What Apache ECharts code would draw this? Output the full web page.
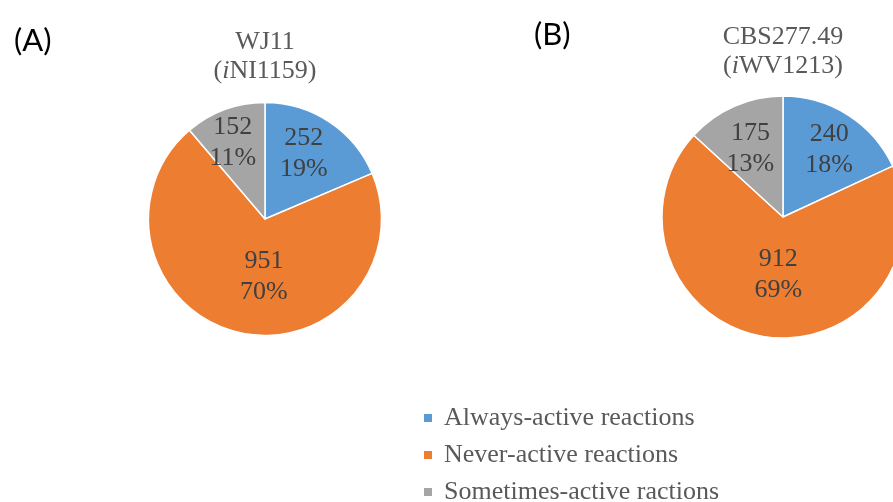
<!DOCTYPE html>
<html>
<head>
<meta charset="utf-8">
<script src="https://cdn.jsdelivr.net/npm/echarts@6/dist/echarts.min.js"></script>
<style>
  html, body { margin: 0; padding: 0; background: #fff; }
  #chart { width: 893px; height: 502px; }
</style>
</head>
<body>
<div id="chart"></div>
<script>
// Reaction activity classes shared by both strains
const categories = ['Always-active reactions', 'Never-active reactions', 'Sometimes-active ractions'];
// Strain WJ11 (model iNI1159)
const valuesA = [252, 951, 152];
// Strain CBS277.49 (model iWV1213)
const valuesB = [240, 912, 175];

const colors = ['#5B9BD5', '#ED7D31', '#A5A5A5'];
const serif = '"Liberation Serif", "Times New Roman", serif';

// Small nudges that move each value label to a comfortable spot in its slice
const labelShiftA = [[5, -14], [13, -2], [-11, -19]];
const labelShiftB = [[12, -14], [5, -5], [-7, -10]];

function buildData(values) {
  return categories.map((name, i) => ({ name, value: values[i] }));
}

function pieSeries(values, center, radius, shift) {
  return {
    type: 'pie',
    center: center,
    radius: radius,
    startAngle: 90,
    clockwise: true,
    percentPrecision: 0,
    animation: false,
    silent: true,
    itemStyle: { borderColor: '#ffffff', borderWidth: 1.5 },
    label: {
      show: true,
      position: 'inside',
      formatter: '{c}\n{d}%',
      color: '#404040',
      fontFamily: serif,
      fontSize: 26,
      lineHeight: 31
    },
    labelLine: { show: false },
    labelLayout: function (p) {
      const s = shift[p.dataIndex];
      return { dx: s[0], dy: s[1] };
    },
    data: buildData(values)
  };
}

function titleRich() {
  const base = { fontFamily: serif, fontSize: 26, color: '#595959', lineHeight: 29.5, fontWeight: 'normal' };
  return {
    n: base,
    i: Object.assign({}, base, { fontStyle: 'italic' })
  };
}

const panelFont = { fontFamily: 'Lato, "Open Sans", sans-serif', fontSize: 31, fontWeight: 'normal', color: '#000' };

const chart = echarts.init(document.getElementById('chart'));
chart.setOption({
  backgroundColor: '#ffffff',
  color: colors,
  title: [
    { text: '(A)', left: 9, top: 20, textStyle: panelFont },
    { text: '(B)', left: 529, top: 14, textStyle: panelFont },
    {
      text: '{n|WJ11}\n{n|(}{i|i}{n|NI1159)}',
      left: 265, top: 27, textAlign: 'center', padding: 0,
      textStyle: { fontWeight: 'normal', rich: titleRich() }
    },
    {
      text: '{n|CBS277.49}\n{n|(}{i|i}{n|WV1213)}',
      left: 783, top: 22, textAlign: 'center', padding: 0,
      textStyle: { fontWeight: 'normal', rich: titleRich() }
    }
  ],
  legend: {
    orient: 'vertical',
    left: 422,
    top: 405,
    height: 140,
    padding: 0,
    icon: 'rect',
    itemWidth: 10,
    itemHeight: 10,
    itemGap: 11,
    selectedMode: false,
    data: categories,
    textStyle: { fontFamily: serif, fontSize: 26, color: '#595959', lineHeight: 26, padding: [0, 0, 0, 6] }
  },
  series: [
    pieSeries(valuesA, [265, 219], 116.5, labelShiftA),
    pieSeries(valuesB, [783, 217], 121, labelShiftB)
  ]
});
</script>
</body>
</html>
